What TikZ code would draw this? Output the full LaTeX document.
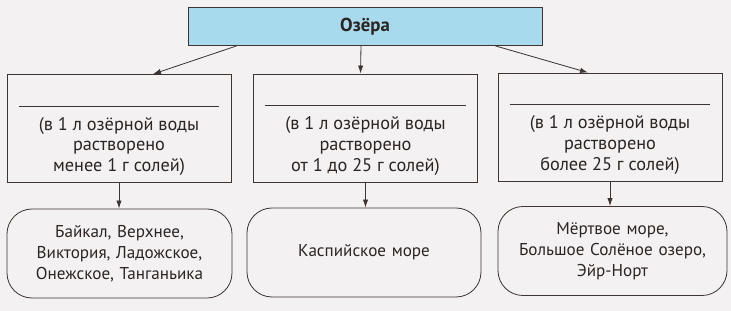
\documentclass[tikz,border=0pt]{standalone}
\usepackage{fontspec}
\setsansfont{PT Sans}
\usepackage{tikz}
\usetikzlibrary{arrows.meta,positioning,calc}

\definecolor{lakeblue}{RGB}{166,218,236}
\definecolor{inkgray}{RGB}{62,52,50}
\definecolor{paper}{RGB}{243,241,241}

\begin{document}
\begin{tikzpicture}[
    x=0.03cm, y=0.03cm,
    font=\sffamily\fontsize{15.6}{17.9}\selectfont,
    text=inkgray!70!black,
    >={Latex[length=2.4mm,width=1.6mm]},
    head/.style={
        draw=inkgray, fill=lakeblue, line width=0.7pt,
        minimum width=10.62cm, minimum height=1.14cm,
        font=\sffamily\bfseries\fontsize{16}{18}\selectfont},
    cat/.style={
        draw=inkgray, line width=0.7pt,
        minimum width=6.72cm, minimum height=3.24cm},
    lake/.style={
        draw=inkgray, line width=0.7pt, rounded corners=0.75cm,
        align=center, text width=6.5cm,
        font=\sffamily\fontsize{14.6}{17.9}\selectfont,
        minimum width=#1, minimum height=2.67cm},
    txt/.style={align=center, inner sep=0pt},
    arr/.style={->, line width=0.7pt, draw=inkgray}
]

%% ══════════════════════════════ PAPER ══════════════════════════════
\fill[paper] (0,0) rectangle (731,-311);

%% ══════════════════════════════ TITLE ══════════════════════════════
\node[head] (lakes) at (365,-26.5) {Озёра};

%% ══════════════════════════════ SALT CLASSES ══════════════════════════════
%% three boxes with an empty line to fill in
\node[cat] (cat1) at (119,-128.5) {};
\node[cat] (cat2) at (365.5,-128) {};
\node[cat] (cat3) at (610,-127) {};

\draw[inkgray, line width=0.6pt] ($(cat1.north west)+(12,-32)$) -- ($(cat1.north east)+(-12,-32)$);
\draw[inkgray, line width=0.6pt] ($(cat2.north west)+(12,-32)$) -- ($(cat2.north east)+(-12,-32)$);
\draw[inkgray, line width=0.6pt] ($(cat3.north west)+(12,-32)$) -- ($(cat3.north east)+(-12,-32)$);

\node[txt] (cat1_txt) at ($(cat1.center)+(0,-18)$)
    {(в 1 л озёрной воды\\растворено\\менее 1 г солей)};
\node[txt] (cat2_txt) at ($(cat2.center)+(0,-18)$)
    {(в 1 л озёрной воды\\растворено\\от 1 до 25 г солей)};
\node[txt] (cat3_txt) at ($(cat3.center)+(0,-18)$)
    {(в 1 л озёрной воды\\растворено\\более 25 г солей)};

\draw[arr] ($(lakes.south west)+(49,0)$) -- ($(cat1.north)+(34,0)$);
\draw[arr] ($(lakes.south)+(-4,0)$) -- ($(cat2.north)+(-5,0)$);
\draw[arr] ($(lakes.south east)+(-47,0)$) -- ($(cat3.north)+(-22,0)$);

%% ══════════════════════════════ EXAMPLES ══════════════════════════════
\node[lake=6.75cm] (lake1) at (119.5,-253.5)
    {Байкал, Верхнее,\\Виктория, Ладожское,\\Онежское, Танганьика};
\node[lake=7.02cm] (lake2) at (364,-252.5)
    {Каспийское море};
\node[lake=6.87cm] (lake3) at (612.5,-251)
    {Мёртвое море,\\Большое Солёное озеро,\\Эйр-Норт};

\draw[arr] (cat1.south) -- (cat1.south |- lake1.north);
\draw[arr] (cat2.south) -- (cat2.south |- lake2.north);
\draw[arr] (cat3.south) -- (cat3.south |- lake3.north);

\end{tikzpicture}
\end{document}
